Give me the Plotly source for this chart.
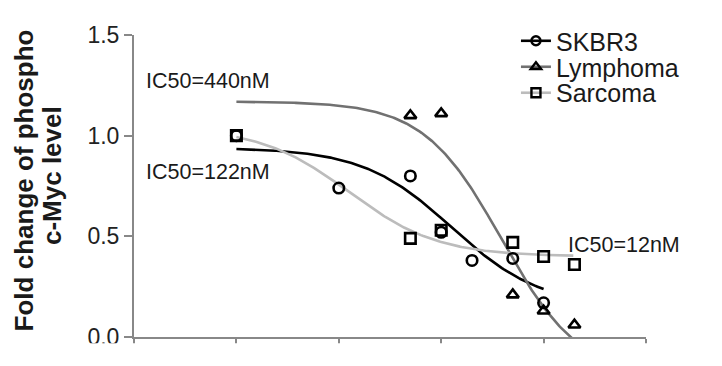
import numpy as np
import plotly.graph_objects as go

# ---- data ----
series_names = ["SKBR3", "Lymphoma", "Sarcoma"]

skbr3_conc = [10, 100, 500, 1000, 2000, 5000, 10000]
skbr3_vals = [1.00, 0.74, 0.80, 0.52, 0.38, 0.39, 0.17]

lymph_conc = [500, 1000, 5000, 10000, 20000]
lymph_vals = [1.10, 1.11, 0.21, 0.13, 0.06]

sarc_conc = [10, 500, 1000, 5000, 10000, 20000]
sarc_vals = [1.00, 0.49, 0.53, 0.47, 0.40, 0.36]

# fitted dose-response curves: [top, bottom, log10 midpoint, hill slope, x start, x end]
skbr3_fit = [0.94, 0.15, 3.10, 1.00, 10, 10000]
lymph_fit = [1.17, -0.20, 3.59, 1.14, 10, 20000]
sarc_fit = [1.04, 0.40, 2.10, 1.00, 10, 19500]

ic50_labels = ["IC50=440nM", "IC50=122nM", "IC50=12nM"]
y_ticks = [0.0, 0.5, 1.0, 1.5]
title_lines = ["Fold change of phospho", "c-Myc level"]

line_colors = ["#000000", "#717171", "#bcbcbc"]
symbols = ["circle-open", "triangle-up-open", "square-open"]
FONT = "Liberation Sans, Arial, sans-serif"


def fit_curve(p):
    top, bot, c, h, x0, x1 = p
    lx = np.linspace(np.log10(x0), np.log10(x1), 200)
    y = bot + (top - bot) / (1 + 10 ** ((lx - c) * h))
    return 10 ** lx, y


fig = go.Figure()

fits = [skbr3_fit, lymph_fit, sarc_fit]
pts = [(skbr3_conc, skbr3_vals), (lymph_conc, lymph_vals), (sarc_conc, sarc_vals)]
legend_ids = ["legend", "legend2", "legend3"]

for i in range(3):
    fx, fy = fit_curve(fits[i])
    fig.add_trace(go.Scatter(x=fx, y=fy, mode="lines", showlegend=False,
                             line=dict(color=line_colors[i], width=2.6), hoverinfo="skip"))
for i in range(3):
    fig.add_trace(go.Scatter(x=pts[i][0], y=pts[i][1], mode="markers", showlegend=False,
                             marker=dict(symbol=symbols[i], size=10.5, color="black",
                                         line=dict(width=2.6, color="black"))))
# legend entries (one small legend per series so row spacing can match)
for i in range(3):
    fig.add_trace(go.Scatter(x=[None], y=[None], mode="lines+markers", name=series_names[i],
                             legend=legend_ids[i],
                             line=dict(color=line_colors[i], width=2.6),
                             marker=dict(symbol=symbols[i], size=9, color="black",
                                         line=dict(width=2.4, color="black"))))

axis_col = "#888888"
fig.update_xaxes(type="log", range=[0, 5], dtick=1, showticklabels=False,
                 ticks="outside", ticklen=6, tickwidth=2, tickcolor=axis_col,
                 showline=True, linecolor=axis_col, linewidth=2,
                 showgrid=False, zeroline=False)
fig.update_yaxes(range=[0, 1.5], tickvals=y_ticks, tickformat=".1f",
                 ticks="outside", ticklen=8, tickwidth=2, tickcolor=axis_col,
                 showline=True, linecolor=axis_col, linewidth=2,
                 showgrid=False, zeroline=False,
                 tickfont=dict(family=FONT, size=23, color="#222222"))

annos = [
    dict(x=0.10, y=1.27, text=ic50_labels[0]),
    dict(x=0.10, y=0.82, text=ic50_labels[1]),
    dict(x=4.22, y=0.455, text=ic50_labels[2]),
]
for a in annos:
    fig.add_annotation(x=a["x"], y=a["y"], text=a["text"], showarrow=False,
                       xanchor="left", yanchor="middle",
                       font=dict(family=FONT, size=21.5, color="#1a1a1a"))

for xp, yp, t in [(-0.214, 0.52, title_lines[0]), (-0.159, 0.535, title_lines[1])]:
    fig.add_annotation(xref="paper", yref="paper", x=xp, y=yp,
                       text="<b>" + t + "</b>", textangle=-90,
                       showarrow=False, xanchor="center", yanchor="middle",
                       font=dict(family=FONT, size=26, color="#1a1a1a"))

# image is cut just below the axis in the reference
fig.add_shape(type="rect", xref="paper", yref="paper", x0=-0.4, x1=1.2,
              y0=-0.0205, y1=-0.2, fillcolor="white", line=dict(width=0), layer="above")

leg_common = dict(x=0.746, xanchor="left", yanchor="middle",
                  font=dict(family=FONT, size=25, color="#1a1a1a"),
                  bgcolor="rgba(0,0,0,0)", itemwidth=30)
fig.update_layout(
    width=722, height=366,
    margin=dict(l=134, r=76, t=35, b=29),
    plot_bgcolor="white", paper_bgcolor="white",
    legend=dict(y=0.980, **leg_common),
    legend2=dict(y=0.894, **leg_common),
    legend3=dict(y=0.808, **leg_common),
)

fig.write_html("out.html", config={"displayModeBar": False},
               post_script="document.body.style.margin='0px';")
